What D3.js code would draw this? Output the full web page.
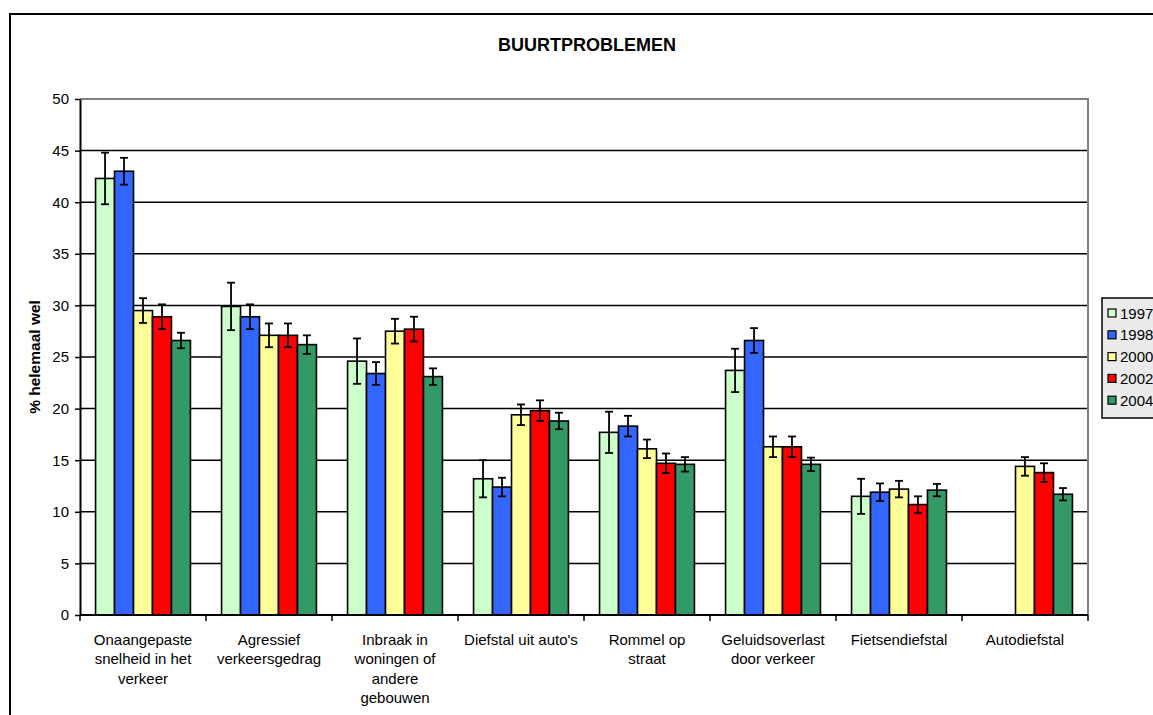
<!DOCTYPE html>
<html>
<head>
<meta charset="utf-8">
<script src="https://cdn.jsdelivr.net/npm/d3@7"></script>
<style>
  body { margin: 0; background: #fff; }
  svg { font-family: "Liberation Sans", Arial, sans-serif; }
</style>
</head>
<body>
<div id="chart"></div>
<script>
// categories (label lines) and years
let arrCats = [
  ["Onaangepaste", "snelheid in het", "verkeer"],
  ["Agressief", "verkeersgedrag"],
  ["Inbraak in", "woningen of", "andere", "gebouwen"],
  ["Diefstal uit auto's"],
  ["Rommel op", "straat"],
  ["Geluidsoverlast", "door verkeer"],
  ["Fietsendiefstal"],
  ["Autodiefstal"]
];
let arrYears = ["1997", "1998", "2000", "2002", "2004"];
let arrColors = ["#ccffcc", "#3366ff", "#ffff99", "#ff0000", "#339966"];
let arrTicks = [0, 5, 10, 15, 20, 25, 30, 35, 40, 45, 50];

// values per year (null = no data)
let arr1997 = [42.3, 29.9, 24.6, 13.2, 17.7, 23.7, 11.5, null];
let arr1998 = [43.0, 28.9, 23.4, 12.4, 18.3, 26.6, 11.9, null];
let arr2000 = [29.5, 27.1, 27.5, 19.4, 16.1, 16.3, 12.2, 14.4];
let arr2002 = [28.9, 27.1, 27.7, 19.8, 14.7, 16.3, 10.7, 13.8];
let arr2004 = [26.6, 26.2, 23.1, 18.8, 14.6, 14.6, 12.1, 11.7];

// error margins per year
let arrErr1997 = [2.5, 2.3, 2.2, 1.8, 2.0, 2.1, 1.7, null];
let arrErr1998 = [1.3, 1.2, 1.1, 0.9, 1.0, 1.2, 0.85, null];
let arrErr2000 = [1.2, 1.15, 1.2, 1.0, 0.9, 1.0, 0.8, 0.9];
let arrErr2002 = [1.2, 1.15, 1.2, 1.0, 0.95, 1.0, 0.8, 0.9];
let arrErr2004 = [0.75, 0.9, 0.8, 0.8, 0.7, 0.65, 0.6, 0.6];

let arrVals = [arr1997, arr1998, arr2000, arr2002, arr2004];
let arrErrs = [arrErr1997, arrErr1998, arrErr2000, arrErr2002, arrErr2004];

let intTotalWid = 1153;
let intTotalHgt = 715;
let objPlot = { left: 80, top: 99, right: 1088, bottom: 615 };

let svg = d3.select("#chart").append("svg")
  .attr("width", intTotalWid)
  .attr("height", intTotalHgt);

// outer chart border
svg.append("rect")
  .attr("x", 10).attr("y", 14)
  .attr("width", 1200).attr("height", 800)
  .attr("fill", "#fff")
  .attr("stroke", "#000").attr("stroke-width", 2);

// scales
let fnX0 = d3.scaleBand()
  .domain(d3.range(arrCats.length))
  .range([objPlot.left, objPlot.right]);
let fnX1 = d3.scaleBand()
  .domain(arrYears)
  .range([0, fnX0.bandwidth()])
  .paddingOuter(0.82);
let fnY = d3.scaleLinear()
  .domain([0, 50])
  .range([objPlot.bottom, objPlot.top]);

// gridlines
svg.append("g")
  .selectAll("line")
  .data(arrTicks.filter(d => d > 0 && d < 50))
  .join("line")
  .attr("x1", objPlot.left).attr("x2", objPlot.right)
  .attr("y1", d => fnY(d)).attr("y2", d => fnY(d))
  .attr("stroke", "#000").attr("stroke-width", 1.5);

// plot area border (top/right gray)
svg.append("path")
  .attr("d", `M${objPlot.left},${fnY(50)}H${objPlot.right}V${objPlot.bottom}`)
  .attr("fill", "none")
  .attr("stroke", "#808080").attr("stroke-width", 2);

// bars
let arrBars = [];
arrVals.forEach((arr, i) => arr.forEach((v, c) => {
  if (v != null) arrBars.push({ c: c, y: arrYears[i], col: arrColors[i], v: v, e: arrErrs[i][c] });
}));

svg.append("g")
  .selectAll("rect")
  .data(arrBars)
  .join("rect")
  .attr("x", d => fnX0(d.c) + fnX1(d.y))
  .attr("y", d => fnY(d.v))
  .attr("width", fnX1.bandwidth())
  .attr("height", d => fnY(0) - fnY(d.v))
  .attr("fill", d => d.col)
  .attr("stroke", "#000").attr("stroke-width", 1.6);

// error bars
let gErr = svg.append("g").attr("stroke", "#000").attr("stroke-width", 1.8);
arrBars.forEach(d => {
  let cx = fnX0(d.c) + fnX1(d.y) + fnX1.bandwidth() / 2;
  gErr.append("line").attr("x1", cx).attr("x2", cx)
    .attr("y1", fnY(d.v + d.e)).attr("y2", fnY(d.v - d.e));
  [d.v + d.e, d.v - d.e].forEach(t => {
    gErr.append("line").attr("x1", cx - 4).attr("x2", cx + 4)
      .attr("y1", fnY(t)).attr("y2", fnY(t));
  });
});

// y axis
let gY = svg.append("g")
  .attr("transform", `translate(${objPlot.left},0)`)
  .call(d3.axisLeft(fnY).tickValues(arrTicks).tickSize(5).tickPadding(6).tickSizeOuter(0));
gY.select(".domain").attr("stroke-width", 2);
gY.selectAll(".tick line").attr("stroke-width", 1.5);
gY.selectAll("text").attr("font-size", 15).attr("font-family", "Liberation Sans, Arial, sans-serif").attr("fill", "#000");

// x axis
let fnXTick = d3.scaleLinear().domain([0, arrCats.length]).range([objPlot.left, objPlot.right]);
svg.append("line")
  .attr("x1", objPlot.left).attr("x2", objPlot.right)
  .attr("y1", objPlot.bottom).attr("y2", objPlot.bottom)
  .attr("stroke", "#000").attr("stroke-width", 2);
svg.append("g")
  .selectAll("line")
  .data(d3.range(arrCats.length + 1))
  .join("line")
  .attr("x1", d => fnXTick(d)).attr("x2", d => fnXTick(d))
  .attr("y1", objPlot.bottom).attr("y2", objPlot.bottom + 6)
  .attr("stroke", "#000").attr("stroke-width", 1.5);

// x labels
svg.append("g")
  .selectAll("text")
  .data(arrCats)
  .join("text")
  .attr("text-anchor", "middle")
  .attr("font-size", 15)
  .attr("fill", "#000")
  .each(function(lines, i) {
    let cx = fnX0(i) + fnX0.bandwidth() / 2;
    d3.select(this).selectAll("tspan")
      .data(lines)
      .join("tspan")
      .attr("x", cx)
      .attr("y", (l, j) => 645 + j * 19.4)
      .text(l => l);
  });

// title
svg.append("text")
  .attr("x", 587).attr("y", 51)
  .attr("text-anchor", "middle")
  .attr("font-size", 18).attr("font-weight", "bold")
  .text("BUURTPROBLEMEN");

// y label
svg.append("text")
  .attr("transform", "translate(40,357) rotate(-90)")
  .attr("text-anchor", "middle")
  .attr("font-size", 15.5).attr("font-weight", "bold")
  .text("% helemaal wel");

// legend
let gLeg = svg.append("g").attr("transform", "translate(1102,298)");
gLeg.append("rect")
  .attr("width", 80).attr("height", 120)
  .attr("fill", "#ebebeb")
  .attr("stroke", "#000").attr("stroke-width", 1.5);
arrYears.forEach((y, i) => {
  let yy = 15 + i * 21.8;
  gLeg.append("rect")
    .attr("x", 6).attr("y", yy - 4).attr("width", 8).attr("height", 8)
    .attr("fill", arrColors[i]).attr("stroke", "#000").attr("stroke-width", 1.2);
  gLeg.append("text")
    .attr("x", 18).attr("y", yy + 5.5)
    .attr("font-size", 15)
    .text(y);
});
</script>
</body>
</html>
